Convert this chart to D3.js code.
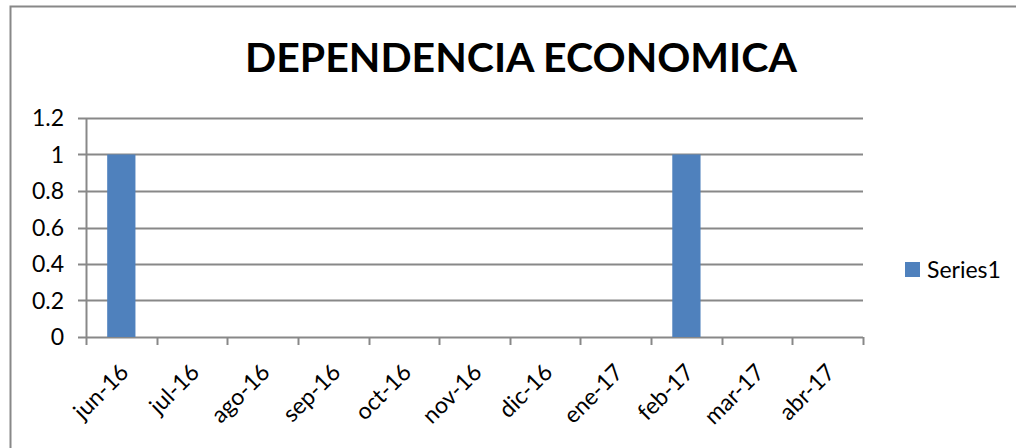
<!DOCTYPE html>
<html>
<head>
<meta charset="utf-8">
<script src="https://cdn.jsdelivr.net/npm/d3@7"></script>
<style>
  body { margin: 0; background: #fff; }
  text { font-family: Lato, "Open Sans", sans-serif; }
</style>
</head>
<body>
<div id="chart"></div>
<script>
var months = ["jun-16","jul-16","ago-16","sep-16","oct-16","nov-16","dic-16","ene-17","feb-17","mar-17","abr-17"]
var series1 = [1, 0, 0, 0, 0, 0, 0, 0, 1, 0, 0]
var yTicks = [0, 0.2, 0.4, 0.6, 0.8, 1, 1.2]
var seriesName = "Series1"
var title = "DEPENDENCIA ECONOMICA"

var W = 1016, H = 448
var margin = {top: 118, left: 86, right: 153, bottom: 111},
    width = W - margin.left - margin.right,
    height = H - margin.top - margin.bottom;

var svg = d3.select("#chart").append("svg")
    .attr("width", W)
    .attr("height", H)

// outer chart border
svg.append("rect")
    .attr("x", 10.5).attr("y", 6.5)
    .attr("width", W + 10).attr("height", H + 10)
    .style("fill", "none")
    .style("stroke", "#888")
    .style("stroke-width", 2)

svg.append("text")
    .attr("x", 521)
    .attr("y", 72)
    .attr("text-anchor", "middle")
    .style("font-size", "41px")
    .style("font-weight", "bold")
    .text(title)

var g = svg.append("g")
    .attr("transform", "translate(" + margin.left + "," + margin.top + ")")

var x = d3.scaleBand()
    .domain(months)
    .range([0, width])
    .paddingInner(0.6)
    .paddingOuter(0.3)

var y = d3.scaleLinear()
    .domain([0, 1.2])
    .range([height, 0])

// gridlines
g.append("g")
    .selectAll("line")
    .data(yTicks)
    .enter().append("line")
    .attr("x1", -8).attr("x2", width)
    .attr("y1", function(d) { return Math.round(y(d)) + 0.5 })
    .attr("y2", function(d) { return Math.round(y(d)) + 0.5 })
    .style("stroke", "#888")
    .style("stroke-width", 2)

// y labels
g.append("g")
    .selectAll("text")
    .data(yTicks)
    .enter().append("text")
    .attr("x", -22)
    .attr("y", function(d) { return y(d) })
    .attr("dy", "0.35em")
    .attr("text-anchor", "end")
    .style("font-size", "23px")
    .text(function(d) { return d })

// bars
g.append("g")
    .selectAll("rect")
    .data(series1)
    .enter().append("rect")
    .attr("x", function(d, i) { return x(months[i]) })
    .attr("y", function(d) { return y(d) })
    .attr("width", x.bandwidth())
    .attr("height", function(d) { return height - y(d) })
    .style("fill", "#4f81bd")

// y axis line
g.append("line")
    .attr("x1", 0.5).attr("x2", 0.5)
    .attr("y1", 0).attr("y2", height)
    .style("stroke", "#888")
    .style("stroke-width", 2)

// x axis ticks between categories
var bounds = d3.range(months.length + 1)
g.append("g")
    .selectAll("line")
    .data(bounds)
    .enter().append("line")
    .attr("x1", function(d) { return Math.round(d * width / months.length) + 0.5 })
    .attr("x2", function(d) { return Math.round(d * width / months.length) + 0.5 })
    .attr("y1", height).attr("y2", height + 8)
    .style("stroke", "#888")
    .style("stroke-width", 2)

g.append("g")
    .selectAll("text")
    .data(months)
    .enter().append("text")
    .attr("transform", function(d) {
        return "translate(" + (x(d) + x.bandwidth() / 2 + 3) + "," + (height + 31) + ") rotate(-45)"
    })
    .attr("text-anchor", "end")
    .attr("dy", "0.35em")
    .style("font-size", "23px")
    .text(function(d) { return d })

// legend
var leg = svg.append("g").attr("transform", "translate(905,262)")
leg.append("rect")
    .attr("width", 15).attr("height", 15)
    .style("fill", "#4f81bd")
leg.append("text")
    .attr("x", 22).attr("y", 8)
    .attr("dy", "0.35em")
    .style("font-size", "23px")
    .text(seriesName)
</script>
</body>
</html>
